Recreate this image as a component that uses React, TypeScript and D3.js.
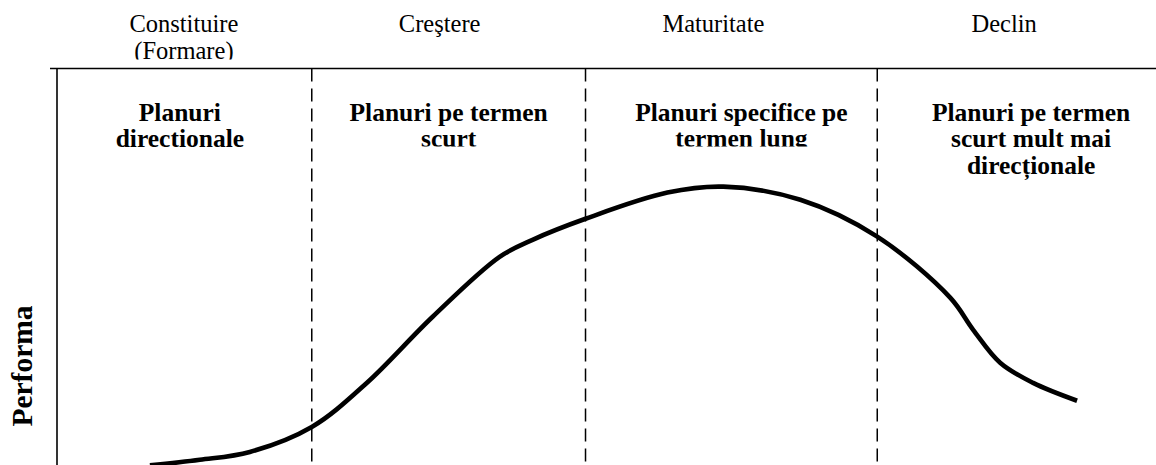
import React, { useEffect, useRef } from 'react';
import * as d3 from 'd3';

// stage names (top row) and the planning type written in each stage
const stageNames = [['Constituire', '(Formare)'], ['Creştere'], ['Maturitate'], ['Declin']];
const stagePlans = [
  ['Planuri', 'directionale'],
  ['Planuri pe termen', 'scurt'],
  ['Planuri specifice pe', 'termen lung'],
  ['Planuri pe termen', 'scurt mult mai', 'direcționale'],
];
// label centres (time units)
const stageNameCenters = [12.7, 38.3, 65.7, 94.8];
const stagePlanCenters = [12.3, 39.2, 68.5, 97.5];
// stage boundaries (time units)
const boundaries = [25.5, 52.9, 82.1];

// life cycle curve: time vs performance
const curveTime = [9.3, 14.3, 19.3, 25.5, 31.0, 37.6, 44.3, 47.6, 52.9, 61.1, 66.7, 74.4, 82.1, 89.4, 91.7, 94.4, 97.7, 102.1];
const curvePerf = [-0.1, 1.3, 3.3, 9.6, 20.7, 37.4, 52.5, 56.8, 62.1, 68.7, 70.2, 66.9, 57.6, 42.2, 34.1, 25.8, 20.7, 16.2];

const W = 1156;
const H = 465;

const App: React.FC = () => {
  const svgRef = useRef<SVGSVGElement>(null);

  useEffect(() => {
    if (!svgRef.current) return;
    const svg = d3.select(svgRef.current);
    svg.selectAll('*').remove();

    const x = d3.scaleLinear().domain([0, 110]).range([57, W]);
    const y = d3.scaleLinear().domain([0, 100]).range([H, 68.5]);

    const serif = '"Liberation Serif", "Times New Roman", serif';

    const defs = svg.append('defs');
    defs.append('clipPath').attr('id', 'clip-head')
      .append('rect').attr('x', 0).attr('y', 0).attr('width', W).attr('height', 59.5);
    defs.append('clipPath').attr('id', 'clip-plan2')
      .append('rect').attr('x', 0).attr('y', 0).attr('width', W).attr('height', 146.5);

    // frame: top line + left axis
    svg.append('line')
      .attr('x1', 50).attr('x2', W).attr('y1', y(100)).attr('y2', y(100))
      .attr('stroke', '#000').attr('stroke-width', 1.6);
    svg.append('line')
      .attr('x1', x(0)).attr('x2', x(0)).attr('y1', y(100)).attr('y2', H)
      .attr('stroke', '#000').attr('stroke-width', 1.6);

    // stage separators
    svg.append('g')
      .selectAll('line')
      .data(boundaries)
      .join('line')
      .attr('x1', d => x(d)).attr('x2', d => x(d))
      .attr('y1', y(100)).attr('y2', H)
      .attr('stroke', '#000').attr('stroke-width', 1.5)
      .attr('stroke-dasharray', '13,7');

    // stage names
    const head = svg.append('g').attr('clip-path', 'url(#clip-head)')
      .attr('font-family', serif).attr('font-size', 24.5).attr('text-anchor', 'middle');
    stageNames.forEach((lines, i) => {
      lines.forEach((t, j) => {
        head.append('text')
          .attr('x', x(stageNameCenters[i]))
          .attr('y', 31.5 + j * 27.5)
          .text(t);
      });
    });

    // plan labels
    stagePlans.forEach((lines, i) => {
      const g = svg.append('g')
        .attr('font-family', serif).attr('font-size', 25.5).attr('font-weight', 'bold')
        .attr('text-anchor', 'middle');
      if (lines.length === 2 && i > 0) g.attr('clip-path', 'url(#clip-plan2)');
      lines.forEach((t, j) => {
        g.append('text')
          .attr('x', x(stagePlanCenters[i]))
          .attr('y', 120.5 + j * 26.5)
          .text(t);
      });
    });

    // y label
    svg.append('text')
      .attr('transform', `translate(32,366) rotate(-90)`)
      .attr('text-anchor', 'middle')
      .attr('font-family', serif).attr('font-size', 29.5).attr('font-weight', 'bold')
      .text('Performa');

    // curve
    const pts = curveTime.map((t, i) => [t, curvePerf[i]] as [number, number]);
    const line = d3.line<[number, number]>()
      .x(d => x(d[0]))
      .y(d => y(d[1]))
      .curve(d3.curveCatmullRom.alpha(0.5));
    svg.append('path')
      .attr('d', line(pts))
      .attr('fill', 'none')
      .attr('stroke', '#000')
      .attr('stroke-width', 4.6);
  }, []);

  return (
    <svg
      ref={svgRef}
      width={W}
      height={H}
      style={{ position: 'absolute', left: 0, top: 0, background: '#fff' }}
    />
  );
};

export default App;
